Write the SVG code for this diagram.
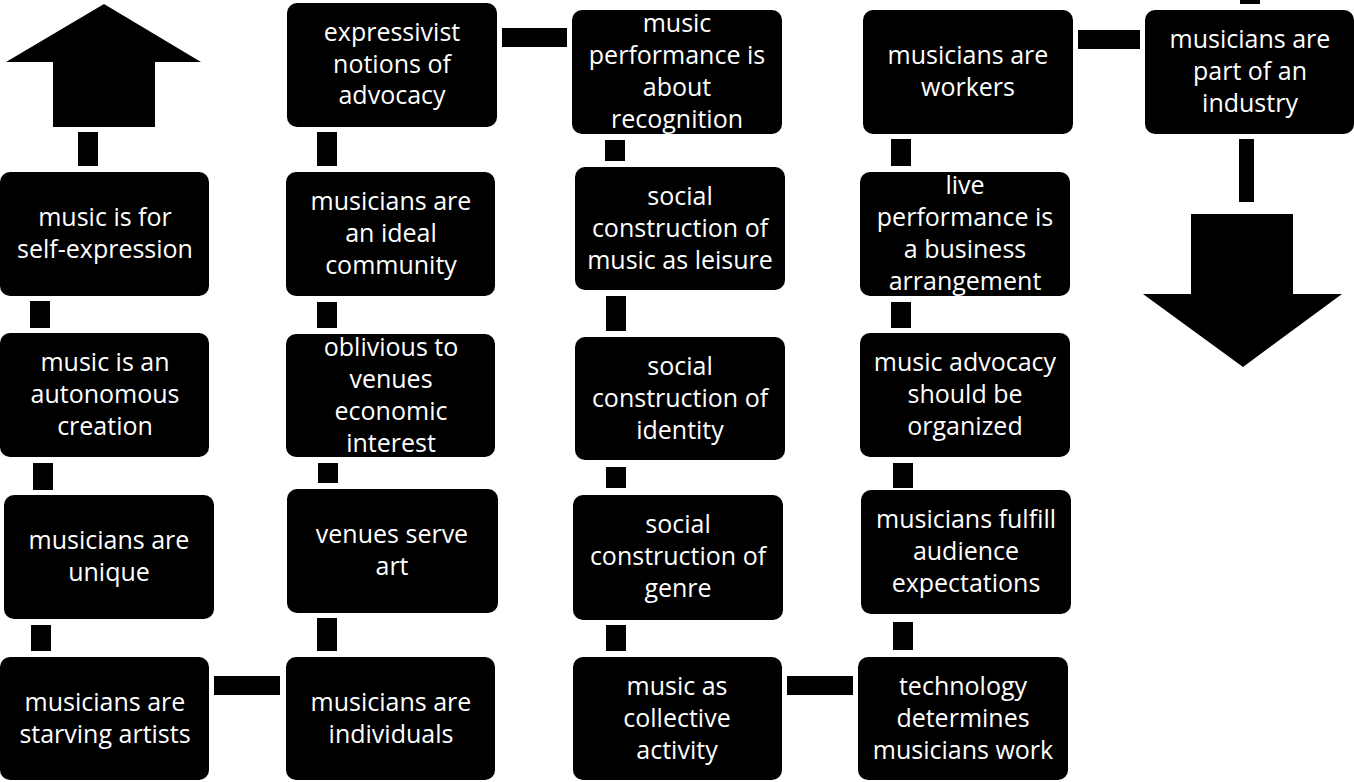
<svg xmlns="http://www.w3.org/2000/svg" width="1354" height="782" viewBox="0 0 1354 782">
<style>
.n{fill:#000}
.t{fill:#fff;font-family:"Open Sans","Liberation Sans",sans-serif;font-size:25px;text-anchor:middle}
.c{fill:#000}
</style>
<rect width="1354" height="782" fill="#fff"/>
<g id="connectors">
<polygon class="c" points="104,4 201,62 155,62 155,127 53,127 53,62 6,62"/>
<polygon class="c" points="1191,214 1293,214 1293,294 1342,294 1243,367 1143,294 1191,294"/>
<rect class="c" x="78" y="132" width="20" height="34"/>
<rect class="c" x="30" y="301" width="20" height="27"/>
<rect class="c" x="33" y="463" width="20" height="27"/>
<rect class="c" x="31" y="625" width="20" height="26"/>
<rect class="c" x="214" y="676" width="66" height="19"/>
<rect class="c" x="317" y="132" width="20" height="34"/>
<rect class="c" x="317" y="302" width="20" height="26"/>
<rect class="c" x="318" y="463" width="20" height="20"/>
<rect class="c" x="317" y="618" width="20" height="33"/>
<rect class="c" x="502" y="28" width="65" height="19"/>
<rect class="c" x="605" y="140" width="20" height="21"/>
<rect class="c" x="606" y="296" width="20" height="35"/>
<rect class="c" x="606" y="467" width="20" height="21"/>
<rect class="c" x="606" y="625" width="20" height="26"/>
<rect class="c" x="787" y="676" width="66" height="19"/>
<rect class="c" x="891" y="139" width="20" height="27"/>
<rect class="c" x="891" y="302" width="20" height="26"/>
<rect class="c" x="893" y="463" width="20" height="25"/>
<rect class="c" x="893" y="622" width="20" height="28"/>
<rect class="c" x="1078" y="30" width="62" height="19"/>
<rect class="c" x="1240" y="0" width="20" height="4"/>
<rect class="c" x="1239" y="139" width="15" height="63"/>
</g>
<g id="n1"><rect class="n" x="0" y="172" width="209" height="124" rx="10"/><text class="t"><tspan x="105" y="226">music is for</tspan><tspan x="105" y="258">self-expression</tspan></text></g>
<g id="n2"><rect class="n" x="0" y="333" width="209" height="124" rx="10"/><text class="t"><tspan x="105" y="371">music is an</tspan><tspan x="105" y="403">autonomous</tspan><tspan x="105" y="435">creation</tspan></text></g>
<g id="n3"><rect class="n" x="4" y="495" width="210" height="124" rx="10"/><text class="t"><tspan x="109" y="549">musicians are</tspan><tspan x="109" y="581">unique</tspan></text></g>
<g id="n4"><rect class="n" x="0" y="657" width="209" height="123" rx="10"/><text class="t"><tspan x="105" y="711">musicians are</tspan><tspan x="105" y="743">starving artists</tspan></text></g>
<g id="n5"><rect class="n" x="287" y="3" width="210" height="124" rx="10"/><text class="t"><tspan x="392" y="41">expressivist</tspan><tspan x="392" y="73">notions of</tspan><tspan x="392" y="104">advocacy</tspan></text></g>
<g id="n6"><rect class="n" x="286" y="172" width="209" height="124" rx="10"/><text class="t"><tspan x="391" y="210">musicians are</tspan><tspan x="391" y="242">an ideal</tspan><tspan x="391" y="274">community</tspan></text></g>
<g id="n7"><rect class="n" x="286" y="334" width="209" height="123" rx="10"/><text class="t"><tspan x="391" y="356">oblivious to</tspan><tspan x="391" y="388">venues</tspan><tspan x="391" y="420">economic</tspan><tspan x="391" y="452">interest</tspan></text></g>
<g id="n8"><rect class="n" x="287" y="489" width="211" height="124" rx="10"/><text class="t"><tspan x="392" y="543">venues serve</tspan><tspan x="392" y="575">art</tspan></text></g>
<g id="n9"><rect class="n" x="286" y="657" width="209" height="123" rx="10"/><text class="t"><tspan x="391" y="711">musicians are</tspan><tspan x="391" y="743">individuals</tspan></text></g>
<g id="n10"><rect class="n" x="572" y="10" width="210" height="124" rx="10"/><text class="t"><tspan x="677" y="32">music</tspan><tspan x="677" y="64">performance is</tspan><tspan x="677" y="96">about</tspan><tspan x="677" y="128">recognition</tspan></text></g>
<g id="n11"><rect class="n" x="575" y="167" width="210" height="123" rx="10"/><text class="t"><tspan x="680" y="205">social</tspan><tspan x="680" y="237">construction of</tspan><tspan x="680" y="269">music as leisure</tspan></text></g>
<g id="n12"><rect class="n" x="575" y="337" width="210" height="123" rx="10"/><text class="t"><tspan x="680" y="375">social</tspan><tspan x="680" y="407">construction of</tspan><tspan x="680" y="439">identity</tspan></text></g>
<g id="n13"><rect class="n" x="573" y="495" width="210" height="125" rx="10"/><text class="t"><tspan x="678" y="533">social</tspan><tspan x="678" y="565">construction of</tspan><tspan x="678" y="597">genre</tspan></text></g>
<g id="n14"><rect class="n" x="573" y="657" width="209" height="123" rx="10"/><text class="t"><tspan x="677" y="695">music as</tspan><tspan x="677" y="727">collective</tspan><tspan x="677" y="759">activity</tspan></text></g>
<g id="n15"><rect class="n" x="863" y="10" width="210" height="124" rx="10"/><text class="t"><tspan x="968" y="64">musicians are</tspan><tspan x="968" y="96">workers</tspan></text></g>
<g id="n16"><rect class="n" x="860" y="172" width="210" height="124" rx="10"/><text class="t"><tspan x="965" y="194">live</tspan><tspan x="965" y="226">performance is</tspan><tspan x="965" y="258">a business</tspan><tspan x="965" y="290">arrangement</tspan></text></g>
<g id="n17"><rect class="n" x="860" y="333" width="210" height="124" rx="10"/><text class="t"><tspan x="965" y="371">music advocacy</tspan><tspan x="965" y="403">should be</tspan><tspan x="965" y="435">organized</tspan></text></g>
<g id="n18"><rect class="n" x="861" y="490" width="210" height="124" rx="10"/><text class="t"><tspan x="966" y="528">musicians fulfill</tspan><tspan x="966" y="560">audience</tspan><tspan x="966" y="592">expectations</tspan></text></g>
<g id="n19"><rect class="n" x="858" y="657" width="210" height="123" rx="10"/><text class="t"><tspan x="963" y="695">technology</tspan><tspan x="963" y="727">determines</tspan><tspan x="963" y="759">musicians work</tspan></text></g>
<g id="n20"><rect class="n" x="1145" y="10" width="209" height="124" rx="10"/><text class="t"><tspan x="1250" y="48">musicians are</tspan><tspan x="1250" y="80">part of an</tspan><tspan x="1250" y="112">industry</tspan></text></g>
</svg>
